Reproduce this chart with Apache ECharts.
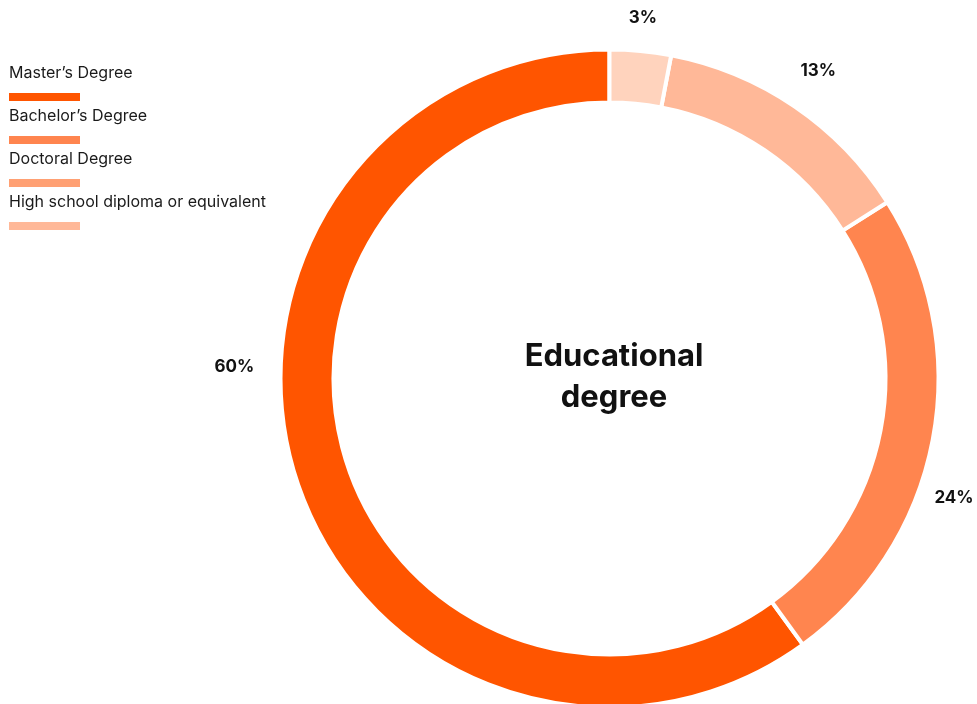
<!DOCTYPE html>
<html>
<head>
<meta charset="utf-8">
<script src="https://cdn.jsdelivr.net/npm/echarts@6/dist/echarts.min.js"></script>
<style>
  html, body { margin: 0; padding: 0; background: #fff; }
  #chart { width: 977px; height: 704px; }
</style>
</head>
<body>
<div id="chart"></div>
<script>
// Share of respondents by highest educational degree
const categories = ['Master’s Degree', 'Bachelor’s Degree', 'Doctoral Degree', 'High school diploma or equivalent'];
const shares = [60, 24, 13, 3];
const sliceColors = ['#FF5500', '#FF854F', '#FFB898', '#FFD3BD'];
const legendColors = ['#FF5500', '#FF854F', '#FFA073', '#FFB898'];
const centerTitle = 'Educational\ndegree';

const FONT = 'Inter, "Noto Sans", sans-serif';

// Label nudges (dx, dy) applied after the pie's own outside placement
const labelNudge = [[-27, -125], [-15, 51], [3, -5], [-1, 4]];

const chart = echarts.init(document.getElementById('chart'), null, { renderer: 'canvas' });

// Legend: caption above a short colour bar, stacked vertically
const legendGraphics = [];
categories.forEach((name, i) => {
  const y0 = 65 + i * 43;
  legendGraphics.push({
    type: 'text',
    left: 9,
    top: y0,
    style: { text: name, font: '400 16px ' + FONT, fill: '#1a1a1a' }
  });
  legendGraphics.push({
    type: 'rect',
    left: 9,
    top: y0 + 28,
    shape: { width: 71, height: 8 },
    style: { fill: legendColors[i] }
  });
});

chart.setOption({
  animation: false,
  backgroundColor: '#ffffff',
  title: {
    text: centerTitle,
    left: 609,
    top: 331,
    textAlign: 'center',
    textStyle: {
      fontFamily: FONT,
      fontSize: 31,
      fontWeight: 'bold',
      color: '#111',
      lineHeight: 41
    }
  },
  graphic: legendGraphics,
  series: [{
    type: 'pie',
    center: [609.5, 378.5],
    radius: [276, 329],
    startAngle: 90,
    clockwise: false,
    avoidLabelOverlap: false,
    itemStyle: { borderColor: '#ffffff', borderWidth: 4 },
    label: {
      show: true,
      position: 'outside',
      width: 60,
      distanceToLabelLine: 0,
      formatter: '{c}%',
      fontFamily: FONT,
      fontSize: 17,
      fontWeight: 'bold',
      color: '#111'
    },
    labelLine: { show: false, length: 37, length2: 0 },
    labelLayout: function (params) {
      const n = labelNudge[params.dataIndex];
      return { align: 'center', verticalAlign: 'middle', dx: n[0], dy: n[1] };
    },
    emphasis: { disabled: true },
    data: categories.map((name, i) => ({
      name: name,
      value: shares[i],
      itemStyle: { color: sliceColors[i] }
    }))
  }]
});
</script>
</body>
</html>
